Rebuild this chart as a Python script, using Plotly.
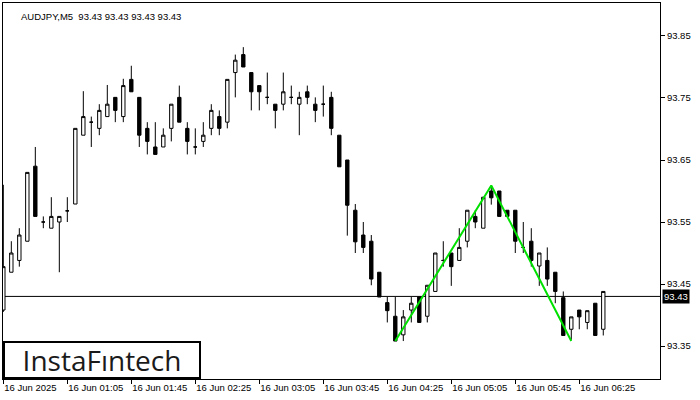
import plotly.graph_objects as go

# ---------------- data ----------------
symbol_title = "AUDJPY,M5  93.43 93.43 93.43 93.43"
last_price = 93.43

opens = [93.408, 93.469, 93.488, 93.519, 93.640, 93.550, 93.540, 93.550, 93.568, 93.579,
         93.690, 93.711, 93.701, 93.720, 93.751, 93.720, 93.780, 93.751, 93.701, 93.671,
         93.671, 93.701, 93.751, 93.701, 93.671, 93.680, 93.701, 93.720, 93.711, 93.791,
         93.820, 93.791, 93.770, 93.751, 93.740, 93.740, 93.751, 93.740, 93.760, 93.740,
         93.740, 93.751, 93.690, 93.650, 93.569, 93.529, 93.519, 93.469, 93.420, 93.398,
         93.368, 93.408, 93.429, 93.398, 93.438, 93.488, 93.500, 93.488, 93.519, 93.559,
         93.540, 93.600, 93.600, 93.569, 93.569, 93.509, 93.519, 93.479, 93.488, 93.469,
         93.428, 93.377, 93.408, 93.388, 93.419, 93.377]
highs = [93.610, 93.519, 93.540, 93.630, 93.671, 93.559, 93.590, 93.559, 93.590, 93.701,
         93.761, 93.720, 93.740, 93.771, 93.751, 93.781, 93.802, 93.751, 93.711, 93.711,
         93.701, 93.740, 93.770, 93.711, 93.701, 93.711, 93.740, 93.730, 93.780, 93.820,
         93.832, 93.791, 93.770, 93.791, 93.740, 93.791, 93.770, 93.760, 93.770, 93.751,
         93.770, 93.760, 93.690, 93.650, 93.579, 93.550, 93.529, 93.469, 93.429, 93.429,
         93.408, 93.429, 93.429, 93.448, 93.500, 93.519, 93.500, 93.540, 93.569, 93.569,
         93.590, 93.609, 93.600, 93.569, 93.569, 93.550, 93.540, 93.500, 93.509, 93.469,
         93.438, 93.397, 93.408, 93.407, 93.419, 93.438]
lows = [93.405, 93.469, 93.478, 93.519, 93.559, 93.540, 93.540, 93.469, 93.550, 93.579,
        93.690, 93.671, 93.690, 93.720, 93.711, 93.711, 93.760, 93.671, 93.659, 93.659,
        93.671, 93.680, 93.711, 93.659, 93.659, 93.671, 93.690, 93.690, 93.701, 93.751,
        93.800, 93.730, 93.730, 93.740, 93.701, 93.730, 93.740, 93.690, 93.740, 93.711,
        93.720, 93.690, 93.639, 93.528, 93.500, 93.500, 93.448, 93.429, 93.388, 93.358,
        93.358, 93.388, 93.388, 93.388, 93.438, 93.478, 93.447, 93.488, 93.509, 93.540,
        93.540, 93.578, 93.559, 93.559, 93.500, 93.500, 93.478, 93.447, 93.447, 93.419,
        93.367, 93.360, 93.377, 93.377, 93.367, 93.367]
closes = [93.478, 93.500, 93.529, 93.630, 93.559, 93.550, 93.559, 93.559, 93.568, 93.701,
          93.720, 93.711, 93.730, 93.740, 93.730, 93.770, 93.760, 93.690, 93.680, 93.659,
          93.690, 93.740, 93.711, 93.680, 93.671, 93.690, 93.730, 93.701, 93.780, 93.811,
          93.800, 93.760, 93.760, 93.751, 93.730, 93.760, 93.751, 93.751, 93.751, 93.730,
          93.740, 93.701, 93.639, 93.577, 93.518, 93.509, 93.458, 93.429, 93.407, 93.358,
          93.397, 93.419, 93.388, 93.448, 93.500, 93.488, 93.478, 93.509, 93.569, 93.550,
          93.590, 93.589, 93.559, 93.559, 93.519, 93.509, 93.488, 93.500, 93.458, 93.438,
          93.367, 93.397, 93.397, 93.407, 93.367, 93.438]
bar_index = list(range(1, len(opens) + 1))

tick_index = [1, 9, 17, 25, 33, 41, 49, 57, 65, 73]
tick_labels = ["16 Jun 2025", "16 Jun 01:05", "16 Jun 01:45", "16 Jun 02:25",
               "16 Jun 03:05", "16 Jun 03:45", "16 Jun 04:25", "16 Jun 05:05",
               "16 Jun 05:45", "16 Jun 06:25"]

price_ticks = [93.35, 93.45, 93.55, 93.65, 93.75, 93.85]

pattern_index = [50, 62, 72]
pattern_price = [93.358, 93.609, 93.358]

# ---------------- figure ----------------
FONT = "Liberation Sans, Arial, sans-serif"

fig = go.Figure()
fig.add_trace(go.Candlestick(
    x=bar_index, open=opens, high=highs, low=lows, close=closes,
    increasing=dict(fillcolor="white", line=dict(color="black", width=1)),
    decreasing=dict(fillcolor="black", line=dict(color="black", width=1)),
    whiskerwidth=0, hoverinfo="skip", showlegend=False,
))
fig.add_trace(go.Scatter(
    x=pattern_index, y=pattern_price, mode="lines",
    line=dict(color="#00e000", width=2), hoverinfo="skip", showlegend=False,
))

fig.add_shape(type="line", xref="paper", x0=0, x1=1, yref="y", y0=last_price, y1=last_price,
              line=dict(color="black", width=1), layer="below")

fig.update_layout(
    width=700, height=400,
    margin=dict(l=3, r=40, t=3, b=21),
    paper_bgcolor="white", plot_bgcolor="white",
    boxgap=0.4,
    font=dict(family=FONT, size=9.5, color="black"),
    showlegend=False,
    hovermode=False,
    xaxis=dict(
        range=[0.96, 83.09], rangeslider=dict(visible=False),
        tickmode="array", tickvals=tick_index, ticktext=tick_labels,
        ticks="outside", ticklen=4, tickcolor="black",
        ticklabelposition="outside right",
        showgrid=False, zeroline=False,
        showline=True, linecolor="black", linewidth=1, mirror=True,
        tickfont=dict(family=FONT, size=9.5, color="black"),
    ),
    yaxis=dict(
        range=[93.2968, 93.9032], side="right",
        tickmode="array", tickvals=price_ticks,
        ticktext=[f"{v:.2f}" for v in price_ticks],
        ticks="outside", ticklen=4, tickcolor="black",
        showgrid=False, zeroline=False,
        showline=True, linecolor="black", linewidth=1, mirror=True,
        tickfont=dict(family=FONT, size=9.5, color="black"),
    ),
)

# title text
fig.add_annotation(text=symbol_title, xref="paper", yref="paper", x=0.024, y=0.985,
                   xanchor="left", yanchor="top", showarrow=False,
                   font=dict(family=FONT, size=9.5, color="black"))

# current price label
fig.add_annotation(text=f"{last_price:.2f}", xref="paper", yref="y", x=1, y=last_price,
                   xanchor="left", yanchor="middle", xshift=2, showarrow=False,
                   bgcolor="black", borderpad=1,
                   font=dict(family=FONT, size=9.5, color="white"))

# logo
fig.add_annotation(text="InstaF\u0131ntech", xref="paper", yref="paper", x=0, y=0,
                   xanchor="left", yanchor="bottom", showarrow=False,
                   width=194, height=34, align="center", valign="middle",
                   bgcolor="white", bordercolor="black", borderwidth=2, borderpad=0,
                   font=dict(family="Open Sans, sans-serif", size=28, color="#1a1a1a"))

fig.write_html("out.html", config={"displayModeBar": False},
               post_script="document.body.style.margin='0';")
